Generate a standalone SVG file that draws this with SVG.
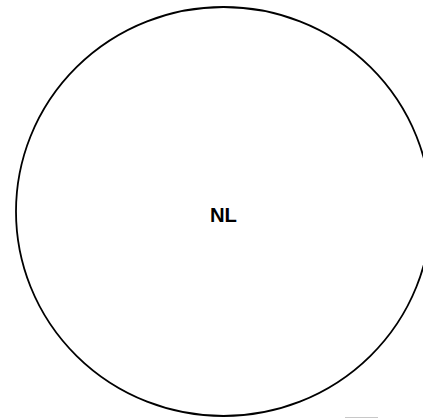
<svg xmlns="http://www.w3.org/2000/svg" width="423" height="418" viewBox="0 0 423 418">
<style>
.node{fill:none;stroke:#000;stroke-width:1.8}
.lbl{font-family:"Liberation Sans",Arial,sans-serif;font-weight:bold;font-size:21px;fill:#000}
</style>
<rect width="423" height="418" fill="#fff"/>
<g id="connectors"></g>
<g id="node-NL">
<ellipse class="node" cx="223.5" cy="211.5" rx="207.5" ry="204.5"/>
<text class="lbl" x="210" y="222" textLength="27" lengthAdjust="spacingAndGlyphs">NL</text>
</g>
<line x1="345" y1="417.5" x2="378" y2="417.5" stroke="#c8c8c8" stroke-width="1"/>
</svg>
